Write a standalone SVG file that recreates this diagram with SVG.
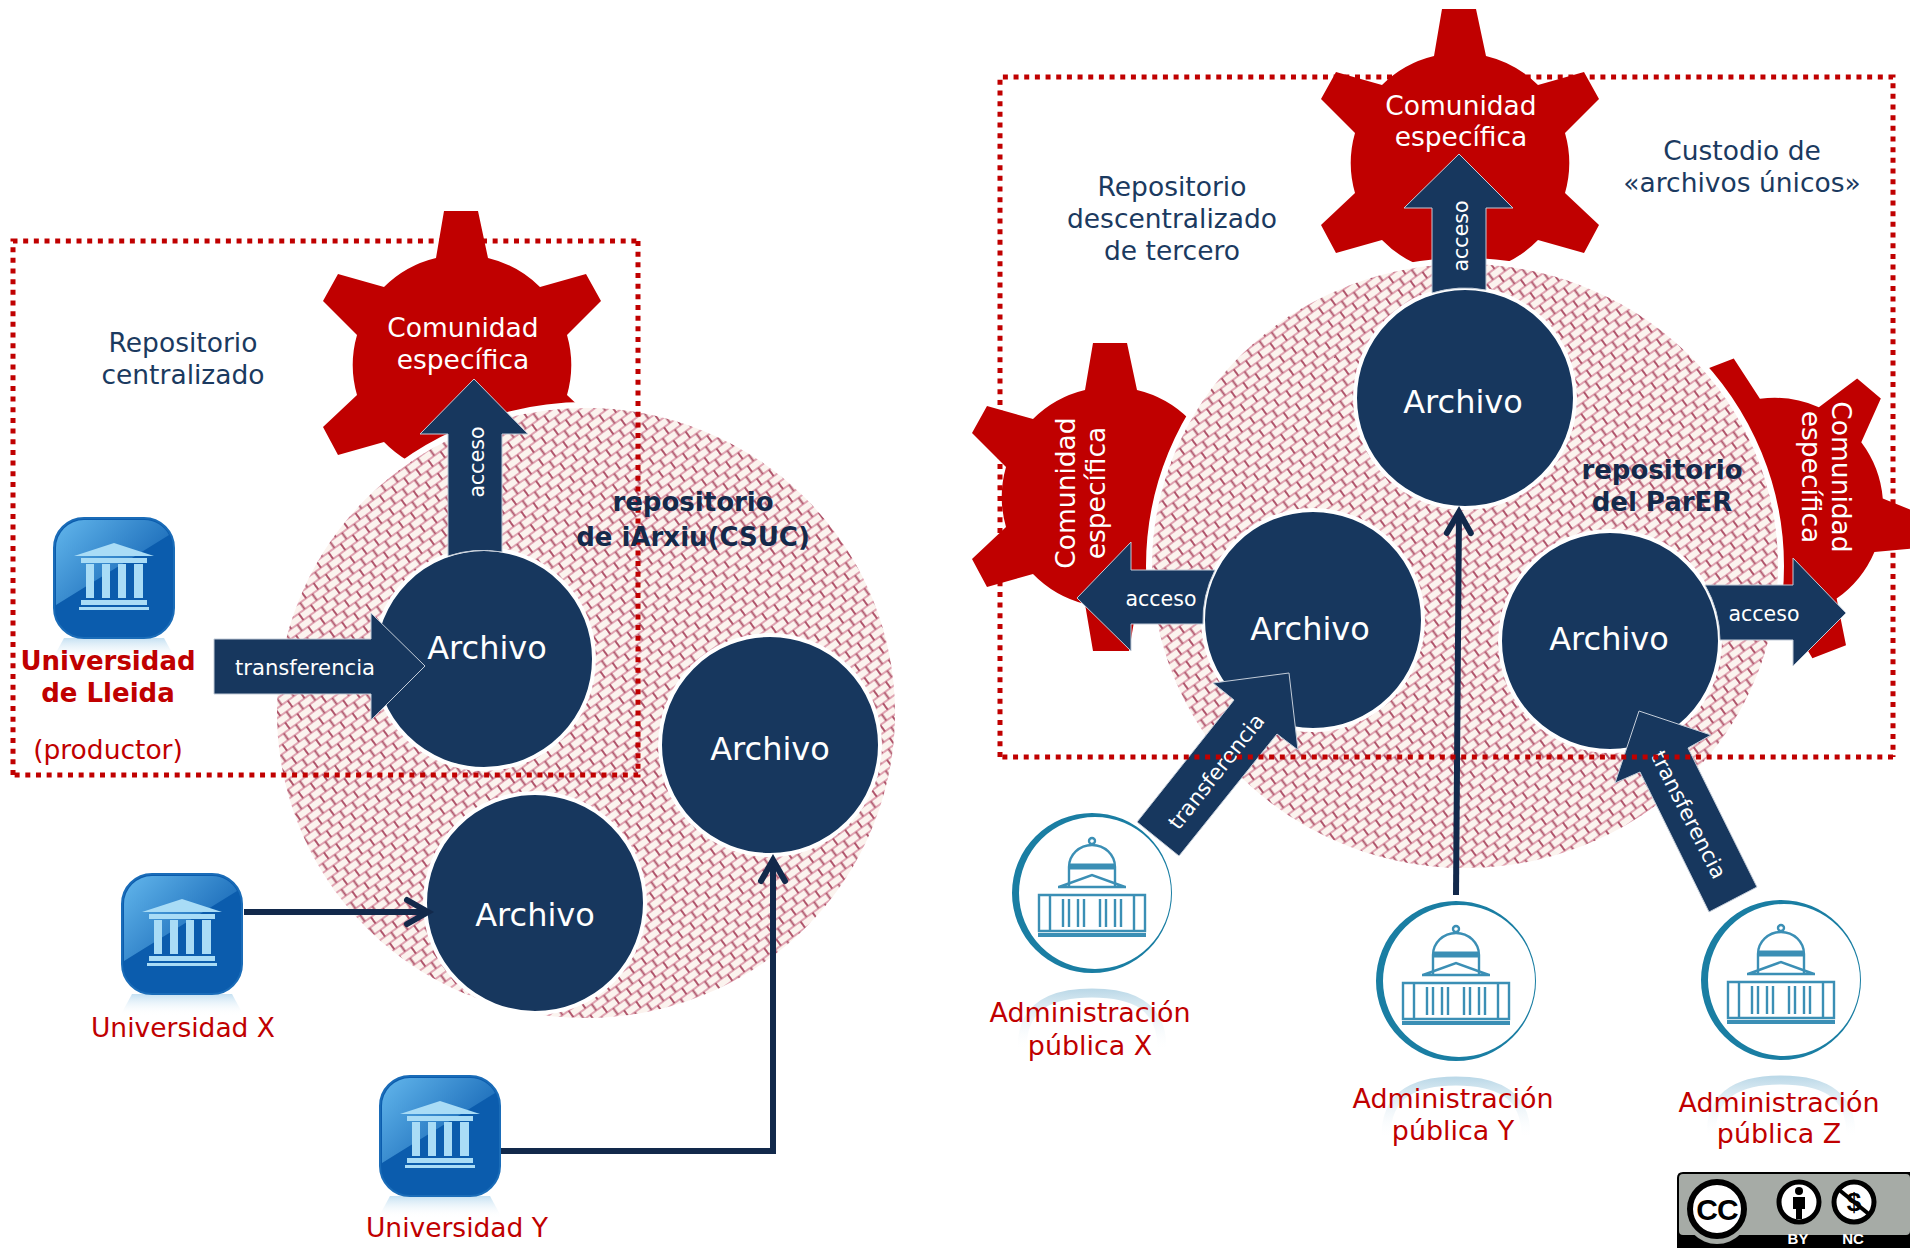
<svg xmlns="http://www.w3.org/2000/svg" xmlns:xlink="http://www.w3.org/1999/xlink" width="1910" height="1248" viewBox="0 0 1910 1248">
<style>
text{font-family:"DejaVu Sans","Verdana",sans-serif}
.mid{text-anchor:middle}
.w{fill:#fff}
.n{fill:#1b3a60}
.r{fill:#c00000}
.gear{fill:#c00000}
.com{font-size:26.5px}
.arc{font-size:32px}
.lab{font-size:26.5px}
.adm{font-size:26.9px}
.arr{font-size:20.5px}
.tr{font-size:21.2px}
.b{font-weight:bold;font-size:26px}
.bn{fill:#14294a}
.cc{font-family:"Liberation Sans",sans-serif;font-weight:bold;text-anchor:middle}
.disc{fill:#17375e;stroke:#fff;stroke-width:4}
.block{fill:#17375e;stroke:#c3ccd8;stroke-width:1}
.hatch{fill:url(#brick);stroke:#fff;stroke-width:6}
.dots{fill:none;stroke:#c00000;stroke-width:5;stroke-dasharray:5 5.67}
.line{fill:none;stroke:#12294b;stroke-width:6;marker-end:url(#chev)}
.bld{fill:none;stroke:#3b8fb5;stroke-width:2.4}
.col{fill:#a9dcf6}
</style>
<defs>
<pattern id="brick" width="15" height="16" patternUnits="userSpaceOnUse" patternTransform="rotate(-36)">
<rect width="15" height="16" fill="#fbf3ee"/>
<path d="M0,0H15M0,8H15M0,16H15" stroke="#e0a4b2" stroke-width="1.8"/>
<path d="M1,0V8M8.5,8V16" stroke="#b0566c" stroke-width="2"/>
</pattern>
<marker id="chev" markerUnits="userSpaceOnUse" markerWidth="40" markerHeight="40" refX="30" refY="20" orient="auto" overflow="visible">
<path d="M9,8L30,20L9,32" fill="none" stroke="#12294b" stroke-width="6" stroke-linecap="round"/>
</marker>
<path id="cog" d="M-18,-154L16,-154L26,-107A110,110 0 0 1 78,-78L124,-91L139,-64L105,-30A109,109 0 0 1 105,30L139,62L124,90L78,77A110,110 0 0 1 26,107L18,154L-18,154L-26,107A110,110 0 0 1 -78,77L-124,90L-139,62L-105,30A109,109 0 0 1 -105,-30L-139,-64L-124,-91L-78,-78A110,110 0 0 1 -26,-107Z"/>
<linearGradient id="gloss" x1="0" y1="0" x2="1" y2="0.7"><stop offset="0" stop-color="#62b6ec"/><stop offset="1" stop-color="#0f5fb0"/></linearGradient>
<linearGradient id="fadeB" x1="0" y1="0" x2="0" y2="1"><stop offset="0" stop-color="#c4e0f2"/><stop offset="1" stop-color="#fff" stop-opacity="0"/></linearGradient>
<linearGradient id="fadeT" gradientUnits="userSpaceOnUse" x1="0" y1="97" x2="0" y2="158"><stop offset="0" stop-color="#bcd9e8"/><stop offset="1" stop-color="#fff" stop-opacity="0"/></linearGradient>
<g id="uni">
<path d="M-50,60H50L62,82H-62Z" fill="url(#fadeB)"/>
<rect x="-60" y="-60" width="120" height="120" rx="30" fill="#0b5cad" stroke="#1a6cb8" stroke-width="2"/>
<path d="M-58,27V-30A28,28 0 0 1 -30,-58H30A28,28 0 0 1 55,-43Z" fill="url(#gloss)"/>
<path class="col" d="M0,-35L40,-22H-40ZM-33,-20H33V-15H-33ZM-28,-14H-20V20H-28ZM-12,-14H-4V20H-12ZM4,-14H12V20H4ZM20,-14H29V20H20ZM-33,22H33V27H-33ZM-35,29H35V32H-35Z"/>
</g>
<g id="adm">
<path d="M-70,155C-70,112 -40,100 0,100C40,100 70,112 70,155" fill="none" stroke="url(#fadeT)" stroke-width="9"/>
<path fill="#1a7ea3" fill-rule="evenodd" d="M0,-80A80,80 0 1 0 0,80A80,80 0 1 0 0,-80ZM3,-76A76,76 0 1 1 3,76A76,76 0 1 1 3,-76Z"/>
<g class="bld">
<circle cx="0" cy="-52" r="3"/>
<path d="M-23,-7V-26A23,22 0 0 1 23,-26V-7"/>
<path d="M-23,-28H23M-23,-25H23" stroke-width="3"/>
<path d="M-33,-6L0,-18L33,-6M-34,-6H34"/>
<path d="M-53,2H53V38H-53ZM-42,2V38M42,2V38M-29,6V34M-23,6V34M-14,6V34M-8,6V34M8,6V34M14,6V34M23,6V34M29,6V34"/>
<path d="M-54,42H54" stroke-width="4"/>
</g>
</g>
</defs>

<g id="zone-left"><path class="dots" d="M13,775V241H638"/></g>
<g id="zone-right"><path class="dots" d="M1000,757V77H1893V757"/></g>

<g id="gear-left">
<use href="#cog" class="gear" transform="translate(462,365)"/>
<text class="com w mid" x="463" y="337">Comunidad</text>
<text class="com w mid" x="463" y="369">específica</text>
</g>
<g id="gear-top">
<use href="#cog" class="gear" transform="translate(1460,163)"/>
<text class="com w mid" x="1461" y="115">Comunidad</text>
<text class="com w mid" x="1461" y="146">específica</text>
</g>
<g id="gear-west">
<use href="#cog" class="gear" transform="translate(1111,497)"/>
<text class="com w mid" transform="translate(1075,493) rotate(-90)">Comunidad</text>
<text class="com w mid" transform="translate(1105,493) rotate(-90)">específica</text>
</g>
<g id="gear-east">
<use href="#cog" class="gear" transform="translate(1774,508) rotate(-21)"/>
<text class="com w mid" transform="translate(1832,477) rotate(90)">Comunidad</text>
<text class="com w mid" transform="translate(1802,477) rotate(90)">específica</text>
</g>

<g id="repo-iarxiu"><ellipse class="hatch" cx="586" cy="713" rx="312" ry="308"/></g>
<g id="repo-parer"><ellipse class="hatch" cx="1465" cy="566" rx="316" ry="305"/></g>

<g id="zone-left-over"><path class="dots" d="M638,241V775H13"/></g>

<g id="archivo-1"><circle class="disc" cx="484" cy="659" r="110"/><text class="arc w mid" x="487" y="659">Archivo</text></g>
<g id="archivo-2"><circle class="disc" cx="770" cy="745" r="110"/><text class="arc w mid" x="770" y="760">Archivo</text></g>
<g id="archivo-3"><circle class="disc" cx="535" cy="903" r="110"/><text class="arc w mid" x="535" y="926">Archivo</text></g>
<g id="archivo-4"><circle class="disc" cx="1465" cy="398" r="110"/><text class="arc w mid" x="1463" y="413">Archivo</text></g>
<g id="archivo-5"><circle class="disc" cx="1313" cy="620" r="110"/><text class="arc w mid" x="1310" y="640">Archivo</text></g>
<g id="archivo-6"><circle class="disc" cx="1610" cy="641" r="110"/><text class="arc w mid" x="1609" y="650">Archivo</text></g>

<g id="connectors">
<path class="block" d="M474,379L528,434H502V552A111,111 0 0 0 448,556V434H420Z"/>
<text class="arr w mid" transform="translate(484,462) rotate(-90)">acceso</text>
<path class="block" d="M214,639H371V613L425,666L371,720V694H214Z"/>
<text class="tr w mid" x="305" y="675">transferencia</text>
<path class="line" d="M244,912H428"/>
<path class="line" d="M493,1151H773V860"/>
<path class="block" d="M1459,154L1513,208H1486V290A112,112 0 0 0 1432,293V208H1404Z"/>
<text class="arr w mid" transform="translate(1468,236) rotate(-90)">acceso</text>
<path class="block" d="M1077,598L1131,542V570H1215A112,112 0 0 0 1203,624H1131V651Z"/>
<text class="arr w mid" x="1161" y="606">acceso</text>
<path class="block" d="M1846,613L1793,558V585H1705A112,112 0 0 1 1720,640H1793V666Z"/>
<text class="arr w mid" x="1764" y="621">acceso</text>
<path class="block" d="M1137,822L1234,700L1213,683L1289,673L1298,750L1277,734L1179,856Z"/>
<text class="tr w mid" transform="translate(1222,776) rotate(-51.7)">transferencia</text>
<path class="block" d="M1709,912L1640,772L1615,783L1639,711L1711,735L1688,748L1757,887Z"/>
<text class="tr w mid" transform="translate(1682,818) rotate(63)">transferencia</text>
<path class="line" d="M1456,895L1459,512"/>
</g>
<g id="zone-right-over"><path class="dots" d="M1893,757H1000"/></g>

<g id="label-centralizado"><text class="lab n mid" x="183" y="352">Repositorio</text><text class="lab n mid" x="183" y="384">centralizado</text></g>
<g id="label-iarxiu"><text class="b bn mid" x="693" y="511">repositorio</text><text class="b bn mid" x="693" y="546">de iArxiu(CSUC)</text></g>
<g id="label-descentralizado"><text class="lab n mid" x="1172" y="196">Repositorio</text><text class="lab n mid" x="1172" y="228">descentralizado</text><text class="lab n mid" x="1172" y="260">de tercero</text></g>
<g id="label-custodio"><text class="lab n mid" x="1742" y="160">Custodio de</text><text class="lab n mid" x="1742" y="192">«archivos únicos»</text></g>
<g id="label-parer"><text class="b bn mid" x="1662" y="479">repositorio</text><text class="b bn mid" x="1662" y="511">del ParER</text></g>

<g id="uni-lleida"><use href="#uni" transform="translate(114,578)"/><text class="b r mid" x="108" y="670">Universidad</text><text class="b r mid" x="108" y="702">de Lleida</text><text class="lab r mid" x="108" y="759">(productor)</text></g>
<g id="uni-x"><use href="#uni" transform="translate(182,934)"/><text class="lab r mid" x="183" y="1037">Universidad X</text></g>
<g id="uni-y"><use href="#uni" transform="translate(440,1136)"/><text class="lab r mid" x="457" y="1237">Universidad Y</text></g>

<g id="adm-x"><use href="#adm" transform="translate(1092,893)"/><text class="adm r mid" x="1090" y="1022">Administración</text><text class="adm r mid" x="1090" y="1055">pública X</text></g>
<g id="adm-y"><use href="#adm" transform="translate(1456,981)"/><text class="adm r mid" x="1453" y="1108">Administración</text><text class="adm r mid" x="1453" y="1140">pública Y</text></g>
<g id="adm-z"><use href="#adm" transform="translate(1781,980)"/><text class="adm r mid" x="1779" y="1112">Administración</text><text class="adm r mid" x="1779" y="1143">pública Z</text></g>

<g id="cc-badge">
<path d="M1677,1248V1178Q1677,1172 1683,1172H1910V1248Z" fill="#000"/>
<rect x="1679" y="1174" width="231" height="61" rx="4" fill="#a6aba6"/>
<circle cx="1717" cy="1211" r="33" fill="#a6aba6"/>
<circle cx="1717" cy="1209" r="27" fill="#fff" stroke="#000" stroke-width="6"/>
<text class="cc" x="1717" y="1220" style="font-size:30px;fill:#000;letter-spacing:-1px">CC</text>
<circle cx="1799" cy="1202" r="20" fill="#fff" stroke="#000" stroke-width="5"/>
<circle cx="1799" cy="1191" r="4" fill="#000"/>
<path d="M1793,1197H1805V1209H1802V1219H1796V1209H1793Z" fill="#000"/>
<circle cx="1854" cy="1202" r="20" fill="#fff" stroke="#000" stroke-width="5"/>
<text class="cc" x="1854" y="1211" style="font-size:26px;fill:#000">$</text>
<path d="M1838,1189L1870,1215" stroke="#000" stroke-width="4"/>
<text class="cc" x="1798" y="1244" style="font-size:15px;fill:#fff">BY</text>
<text class="cc" x="1853" y="1244" style="font-size:15px;fill:#fff">NC</text>
</g>
</svg>
